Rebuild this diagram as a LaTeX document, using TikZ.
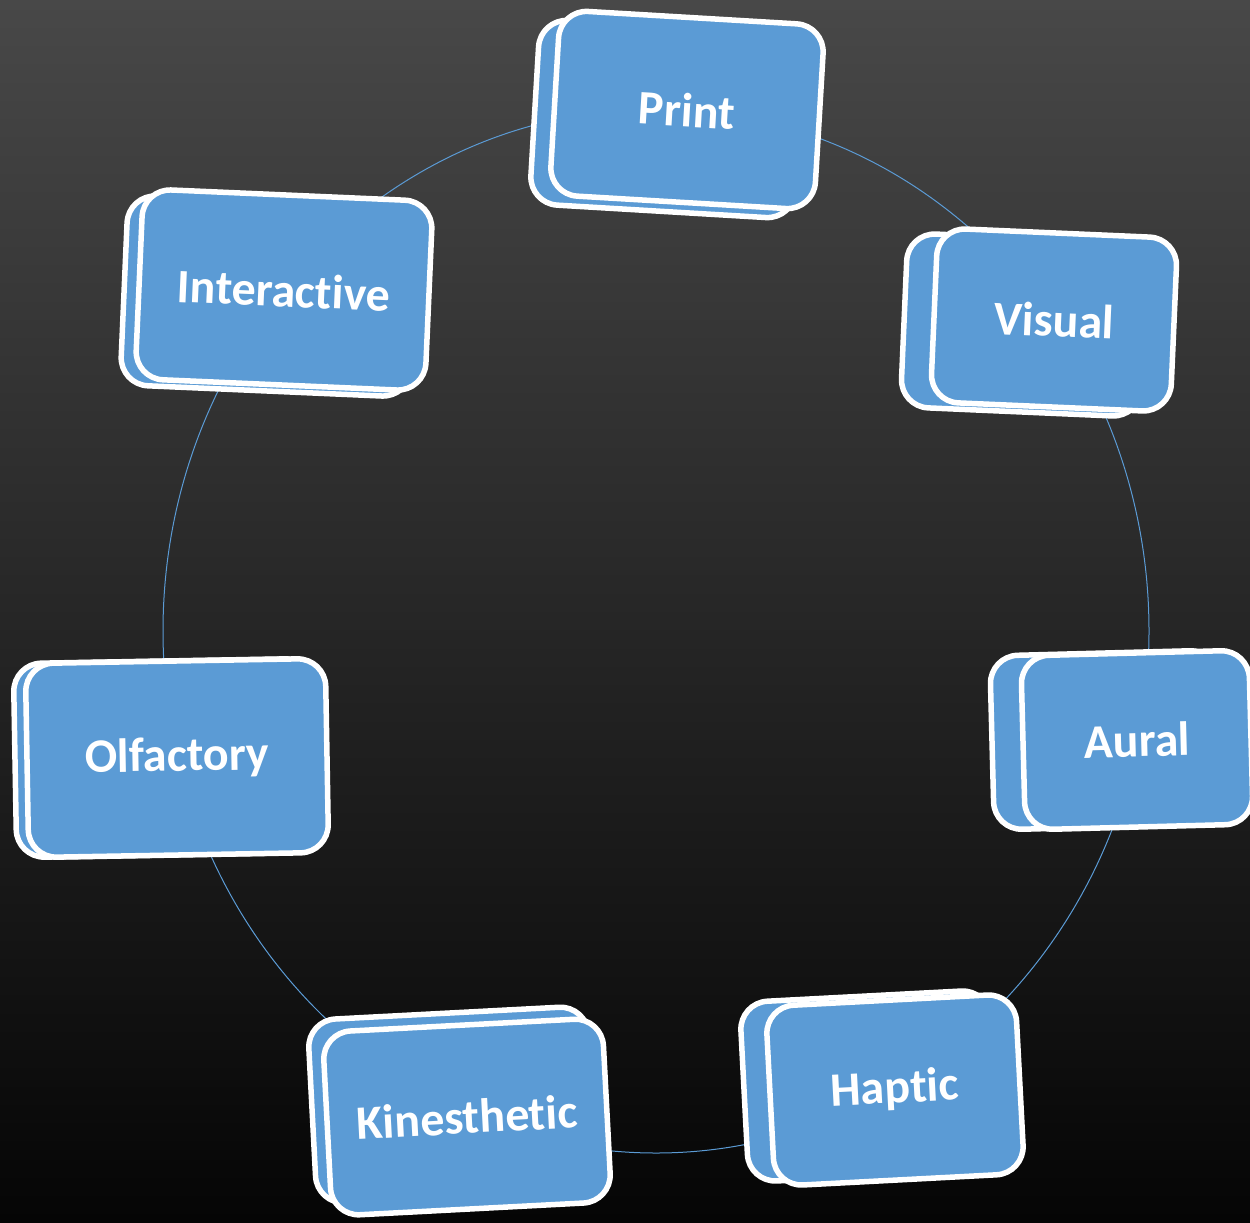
\documentclass[tikz,border=0pt]{standalone}
\usepackage{fontspec}
\setmainfont[Ligatures = NoCommon]{Carlito}
\definecolor{boxblue}{HTML}{5B9BD5}
\definecolor{bgtop}{HTML}{484848}
\definecolor{bgbottom}{HTML}{050505}
\tikzset{
  face/.style = {draw = white, line width = 5.5pt, fill = boxblue,
    rounded corners = 28pt, inner sep = 0pt, text = white,
    font = \fontsize{48}{48}\selectfont\bfseries},
  ring/.style = {draw = boxblue, line width = 1pt}
}
\begin{document}
\begin{tikzpicture}[x = 1pt, y = -1pt]
  \useasboundingbox (0,0) rectangle (1250,1223);
  \shade [top color = bgtop, bottom color = bgbottom] (0,0) rectangle (1250,1223);
  \draw [ring] (656,631) ellipse [x radius = 493, y radius = 522];
  % front face centre, size, tilt, offset of the back face
  \foreach \n/\x/\y/\w/\h/\r/\dx/\dy/\t in {
      print/687/110/265/185/-3.4/-20/9/Print,
      interactive/284/290/290/190/-2.5/-15/6/Interactive,
      visual/1054/320/240/174/-2.5/-30/5/Visual,
      aural/1137/740/228/174/1.5/-31/0/Aural,
      haptic/895/1090/250/180/3/-26/-4/Haptic,
      kinesthetic/467/1117/280/184/3/-15/-12/Kinesthetic,
      olfactory/177/758/300/194/1/-12/0/Olfactory}
  {
    \node [face, minimum width = \w, minimum height = \h, rotate = \r]
      (\n-back) at (\x+\dx, \y+\dy) {};
    \node [face, minimum width = \w, minimum height = \h, rotate = \r]
      (\n) at (\x, \y) {\t};
  }
\end{tikzpicture}
\end{document}
